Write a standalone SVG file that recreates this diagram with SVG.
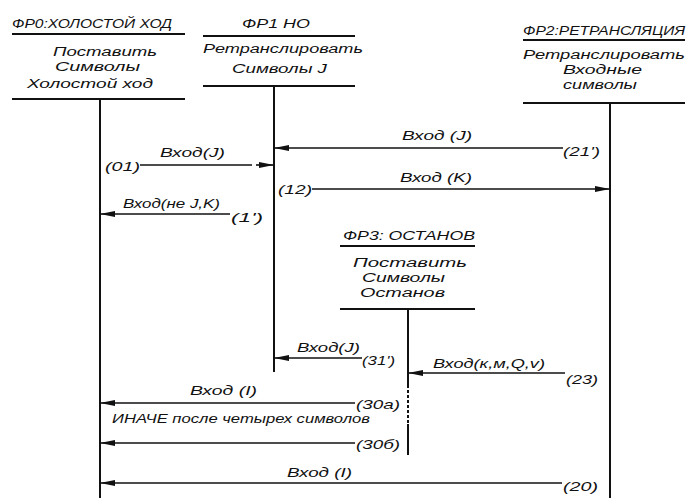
<svg xmlns="http://www.w3.org/2000/svg" width="696" height="498" viewBox="0 0 696 498">
<style>
text{font-family:"Liberation Sans","DejaVu Sans",sans-serif;font-style:italic;font-size:13px;fill:#111}
.b{font-size:12px}
.hl{stroke:#111;stroke-width:2.2;fill:none}
.ll{stroke:#111;stroke-width:2;fill:none}
.msg{stroke:#111;stroke-width:1.6;fill:none}
</style>
<defs>
<marker id="ah" markerUnits="userSpaceOnUse" markerWidth="15" markerHeight="7" refX="15" refY="3.5" orient="auto">
<path d="M0,0.5 L15,3.5 L0,6.5 z" fill="#111"/>
</marker>
</defs>
<rect width="696" height="498" fill="#fff"/>
<g id="fr0">
<text x="12" y="28" textLength="160" lengthAdjust="spacingAndGlyphs">ФР0:ХОЛОСТОЙ ХОД</text>
<line class="hl" x1="12" y1="34" x2="185" y2="34"/>
<text class="b" x="53" y="56" textLength="104" lengthAdjust="spacingAndGlyphs">Поставить</text>
<text class="b" x="55" y="71" textLength="85" lengthAdjust="spacingAndGlyphs">Символы</text>
<text class="b" x="27" y="88" textLength="126" lengthAdjust="spacingAndGlyphs">Холостой ход</text>
<line class="hl" x1="12" y1="99" x2="185" y2="99"/>
<line class="ll" x1="100" y1="99" x2="100" y2="498"/>
</g>
<g id="fr1">
<text x="242" y="28" textLength="68" lengthAdjust="spacingAndGlyphs">ФР1  НО</text>
<line class="hl" x1="203" y1="36" x2="355" y2="36"/>
<text class="b" x="203" y="53" textLength="160" lengthAdjust="spacingAndGlyphs">Ретранслировать</text>
<text class="b" x="232" y="73" textLength="95" lengthAdjust="spacingAndGlyphs">Символы J</text>
<line class="hl" x1="203" y1="86" x2="355" y2="86"/>
<line class="ll" x1="274" y1="86" x2="274" y2="372"/>
</g>
<g id="fr2">
<text x="523" y="35" textLength="162" lengthAdjust="spacingAndGlyphs">ФР2:РЕТРАНСЛЯЦИЯ</text>
<line class="hl" x1="523" y1="40" x2="685" y2="40"/>
<text class="b" x="523" y="59" textLength="162" lengthAdjust="spacingAndGlyphs">Ретранслировать</text>
<text class="b" x="563" y="74" textLength="79" lengthAdjust="spacingAndGlyphs">Входные</text>
<text class="b" x="563" y="89" textLength="74" lengthAdjust="spacingAndGlyphs">символы</text>
<line class="hl" x1="523" y1="103" x2="685" y2="103"/>
<line class="ll" x1="610" y1="103" x2="610" y2="498"/>
</g>
<g id="fr3">
<text x="343" y="240" textLength="132" lengthAdjust="spacingAndGlyphs">ФР3: ОСТАНОВ</text>
<line class="hl" x1="340" y1="246" x2="475" y2="246"/>
<text class="b" x="353" y="267" textLength="114" lengthAdjust="spacingAndGlyphs">Поставить</text>
<text class="b" x="362" y="282" textLength="83" lengthAdjust="spacingAndGlyphs">Символы</text>
<text class="b" x="360" y="297" textLength="85" lengthAdjust="spacingAndGlyphs">Останов</text>
<line class="hl" x1="340" y1="309" x2="475" y2="309"/>
<line class="ll" x1="408" y1="309" x2="408" y2="385"/>
<line class="ll" x1="408" y1="385" x2="408" y2="424" stroke-dasharray="3,2" stroke-width="1.6"/>
<line class="ll" x1="408" y1="424" x2="408" y2="455"/>
</g>
<g id="connectors">
<line class="msg" x1="563" y1="148" x2="274" y2="148" marker-end="url(#ah)"/>
<line class="msg" x1="140" y1="165" x2="252" y2="165"/>
<line class="msg" x1="256" y1="165" x2="274" y2="165" marker-end="url(#ah)"/>
<line class="msg" x1="312" y1="189" x2="610" y2="189" marker-end="url(#ah)"/>
<line class="msg" x1="230" y1="214" x2="100" y2="214" marker-end="url(#ah)"/>
<line class="msg" x1="362" y1="358" x2="274" y2="358" marker-end="url(#ah)"/>
<line class="msg" x1="565" y1="373" x2="408" y2="373" marker-end="url(#ah)"/>
<line class="msg" x1="355" y1="403" x2="100" y2="403" marker-end="url(#ah)"/>
<line class="msg" x1="355" y1="443" x2="100" y2="443" marker-end="url(#ah)"/>
<line class="msg" x1="562" y1="483" x2="100" y2="483" marker-end="url(#ah)"/>
</g>
<g id="labels">
<text x="402" y="140" textLength="70" lengthAdjust="spacingAndGlyphs">Вход (J)</text>
<text x="563" y="156" textLength="37" lengthAdjust="spacingAndGlyphs">(21')</text>
<text x="160" y="157" textLength="65" lengthAdjust="spacingAndGlyphs">Вход(J)</text>
<text x="105" y="171" textLength="35" lengthAdjust="spacingAndGlyphs">(01)</text>
<text x="400" y="182" textLength="72" lengthAdjust="spacingAndGlyphs">Вход (K)</text>
<text x="278" y="194" textLength="34" lengthAdjust="spacingAndGlyphs">(12)</text>
<text x="123" y="208" textLength="97" lengthAdjust="spacingAndGlyphs">Вход(не J,K)</text>
<text x="231" y="222" textLength="32" lengthAdjust="spacingAndGlyphs">(1')</text>
<text x="297" y="352" textLength="63" lengthAdjust="spacingAndGlyphs">Вход(J)</text>
<text x="362" y="365" textLength="33" lengthAdjust="spacingAndGlyphs">(31')</text>
<text x="433" y="368" textLength="112" lengthAdjust="spacingAndGlyphs">Вход(к,м,Q,v)</text>
<text x="566" y="384" textLength="32" lengthAdjust="spacingAndGlyphs">(23)</text>
<text x="190" y="395" textLength="67" lengthAdjust="spacingAndGlyphs">Вход (I)</text>
<text x="356" y="409" textLength="44" lengthAdjust="spacingAndGlyphs">(30а)</text>
<text x="112" y="423" textLength="258" lengthAdjust="spacingAndGlyphs" style="font-size:12px">ИНАЧЕ после четырех символов</text>
<text x="356" y="449" textLength="44" lengthAdjust="spacingAndGlyphs">(30б)</text>
<text x="287" y="477" textLength="65" lengthAdjust="spacingAndGlyphs">Вход (I)</text>
<text x="563" y="491" textLength="35" lengthAdjust="spacingAndGlyphs">(20)</text>
</g>
</svg>
